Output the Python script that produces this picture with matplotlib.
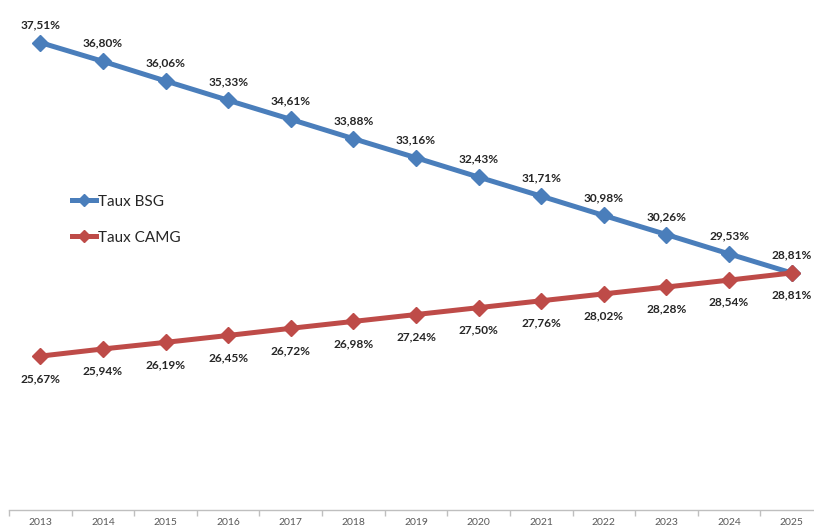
import matplotlib.pyplot as plt
import numpy as np

annees = ["2013", "2014", "2015", "2016", "2017", "2018", "2019",
          "2020", "2021", "2022", "2023", "2024", "2025"]
taux_bsg = [37.51, 36.80, 36.06, 35.33, 34.61, 33.88, 33.16,
            32.43, 31.71, 30.98, 30.26, 29.53, 28.81]
taux_camg = [25.67, 25.94, 26.19, 26.45, 26.72, 26.98, 27.24,
             27.50, 27.76, 28.02, 28.28, 28.54, 28.81]

plt.rcParams['font.family'] = ['Lato', 'DejaVu Sans']

W, H = 814, 528
fig = plt.figure(figsize=(W / 100, H / 100), dpi=100)
# axes placé en pixels (le haut et la droite dépassent l'image, comme dans l'original)
ax = fig.add_axes([9 / W, 18 / H, 814 / W, 533.4 / H])

x = np.arange(len(annees))
bleu = "#4A7EBB"
rouge = "#BE4B48"

ax.plot(x, taux_bsg, color=bleu, lw=3.6, marker="D", ms=8.5, label="Taux BSG")
ax.plot(x, taux_camg, color=rouge, lw=3.6, marker="D", ms=8.5, label="Taux CAMG")

def fmt(v):
    return f"{v:.2f}%".replace(".", ",")

for i, v in enumerate(taux_bsg):
    ax.annotate(fmt(v), (x[i], v), xytext=(0, 13), textcoords="offset points",
                ha="center", va="center", fontsize=8.6, fontweight="bold", color="#262626")
for i, v in enumerate(taux_camg):
    ax.annotate(fmt(v), (x[i], v), xytext=(0, -16), textcoords="offset points",
                ha="center", va="center", fontsize=8.6, fontweight="bold", color="#262626")

ax.set_xlim(-0.5, 12.5)
ax.set_ylim(19.86, 40)
ax.set_xticks(x)
ax.set_xticklabels(annees, fontsize=7.5, color="#595959")
ax.set_xticks(np.arange(-0.5, 13, 1), minor=True)
ax.tick_params(axis="x", which="major", length=0, pad=6)
ax.tick_params(axis="x", which="minor", length=4, color="#BFBFBF", width=1)
ax.set_yticks([])
for s in ["top", "right", "left"]:
    ax.spines[s].set_visible(False)
ax.spines["bottom"].set_color("#BFBFBF")
ax.spines["bottom"].set_linewidth(1)

leg = ax.legend(loc="upper left", bbox_to_anchor=(55 / 814, 1 - (187 + 23.4) / 533.4),
                frameon=False, fontsize=11, handlelength=1.6, handletextpad=0.1,
                labelspacing=1.45, borderpad=0, markerscale=0.75)
for t in leg.get_texts():
    t.set_color("#262626")

fig.savefig("out.png", dpi=100)
